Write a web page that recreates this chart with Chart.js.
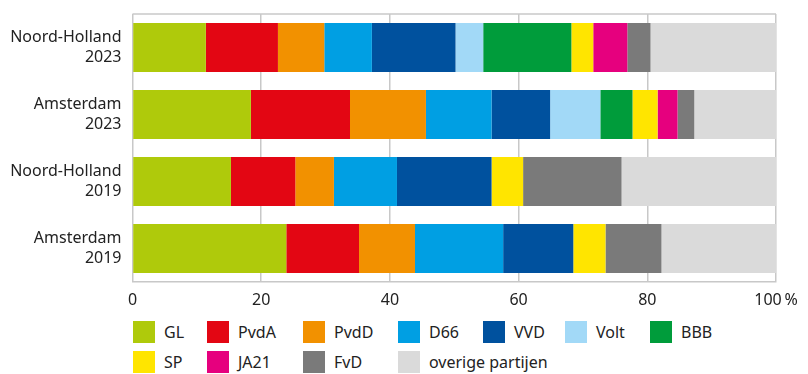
<!DOCTYPE html>
<html>
<head>
<meta charset="utf-8">
<script src="https://cdn.jsdelivr.net/npm/chart.js@4/dist/chart.umd.min.js"></script>
<style>
  body { margin: 0; background: #fff; font-family: "Noto Sans", sans-serif; color: #222; }
  #wrap { position: relative; width: 808px; height: 374px; overflow: hidden; }
  #legend {
    position: absolute; left: 133px; top: 321px;
    display: grid;
    grid-template-columns: 74px 96px 95px 85px 82px 85px 120px;
    row-gap: 8px;
  }
  .item { display: flex; align-items: center; height: 22px; font-size: 16px; white-space: nowrap; }
  .swatch { width: 22px; height: 22px; margin-right: 9px; flex: none; }
</style>
</head>
<body>
<div id="wrap">
  <canvas id="chart" width="808" height="312"></canvas>
  <div id="legend"></div>
</div>
<script>
// rows, top to bottom
const categories = [
  ["Noord-Holland", "2023"],
  ["Amsterdam", "2023"],
  ["Noord-Holland", "2019"],
  ["Amsterdam", "2019"]
];

// vote share per party (%), same order as categories
const gl      = [11.4, 18.4, 15.3, 23.9];
const pvda    = [11.2, 15.4, 10.0, 11.3];
const pvdd    = [7.2, 11.8, 6.0, 8.7];
const d66     = [7.4, 10.2, 9.8, 13.7];
const vvd     = [13.0, 9.1, 14.7, 10.9];
const volt    = [4.3, 7.8, 0, 0];
const bbb     = [13.7, 5.0, 0, 0];
const sp      = [3.4, 3.9, 4.9, 5.0];
const ja21    = [5.3, 3.1, 0, 0];
const fvd     = [3.6, 2.6, 15.3, 8.7];
const overige = [19.5, 12.7, 24.0, 17.8];

const partyNames = ["GL", "PvdA", "PvdD", "D66", "VVD", "Volt", "BBB", "SP", "JA21", "FvD", "overige partijen"];
const partyValues = [gl, pvda, pvdd, d66, vvd, volt, bbb, sp, ja21, fvd, overige];
const partyColors = ["#afca0b", "#e30613", "#f29100", "#009fe3", "#00519e", "#a2d9f7",
                     "#009c3b", "#ffe500", "#e6007e", "#7a7a7a", "#dadada"];

const xTicks = [0, 20, 40, 60, 80, 100];

const gridColor = "#c8c8c8";
const textColor = "#222";

const datasets = partyNames.map((name, i) => ({
  label: name,
  data: partyValues[i],
  backgroundColor: partyColors[i],
  borderWidth: 0,
  barPercentage: 0.73,
  categoryPercentage: 1
}));

// top edge of the plot box (the bottom edge is the x axis border)
const topLine = {
  id: "topLine",
  beforeDatasetsDraw(chart) {
    const { ctx, chartArea } = chart;
    ctx.save();
    ctx.strokeStyle = gridColor;
    ctx.lineWidth = 1.5;
    ctx.beginPath();
    ctx.moveTo(chartArea.left, chartArea.top);
    ctx.lineTo(chartArea.right, chartArea.top);
    ctx.stroke();
    ctx.restore();
  }
};

new Chart(document.getElementById("chart"), {
  type: "bar",
  data: { labels: categories, datasets },
  plugins: [topLine],
  options: {
    indexAxis: "y",
    responsive: false,
    animation: false,
    devicePixelRatio: 1,
    layout: { padding: { top: 14, right: 32, bottom: 4, left: 0 } },
    plugins: { legend: { display: false }, tooltip: { enabled: false } },
    scales: {
      x: {
        stacked: true,
        min: 0,
        max: 100,
        afterBuildTicks: (scale) => {
          scale.ticks = xTicks.map(v => ({ value: v }));
        },
        afterFit: (scale) => { scale.height = 26; },
        grid: { color: gridColor, lineWidth: 1.5, drawTicks: false },
        border: { display: true, color: gridColor, width: 1.5 },
        ticks: {
          padding: 9,
          color: textColor,
          font: { family: "Noto Sans", size: 16 },
          maxRotation: 0,
          callback: (v) => v === 100 ? "100\u2009%" : v
        }
      },
      y: {
        stacked: true,
        grid: { display: false, drawTicks: false },
        border: { display: false },
        afterFit: (scale) => {
          scale.width = 132.5;
          // two-line labels should not push the plot area down
          scale.paddingTop = 0;
          scale.paddingBottom = 0;
        },
        ticks: {
          padding: 11,
          color: textColor,
          font: { family: "Noto Sans", size: 16, lineHeight: 1.25 }
        }
      }
    }
  }
});

// legend built from the same party lists
const legendEl = document.getElementById("legend");
partyNames.forEach((name, i) => {
  const item = document.createElement("div");
  item.className = "item";
  const sw = document.createElement("span");
  sw.className = "swatch";
  sw.style.background = partyColors[i];
  const label = document.createElement("span");
  label.textContent = name;
  item.appendChild(sw);
  item.appendChild(label);
  legendEl.appendChild(item);
});
</script>
</body>
</html>
